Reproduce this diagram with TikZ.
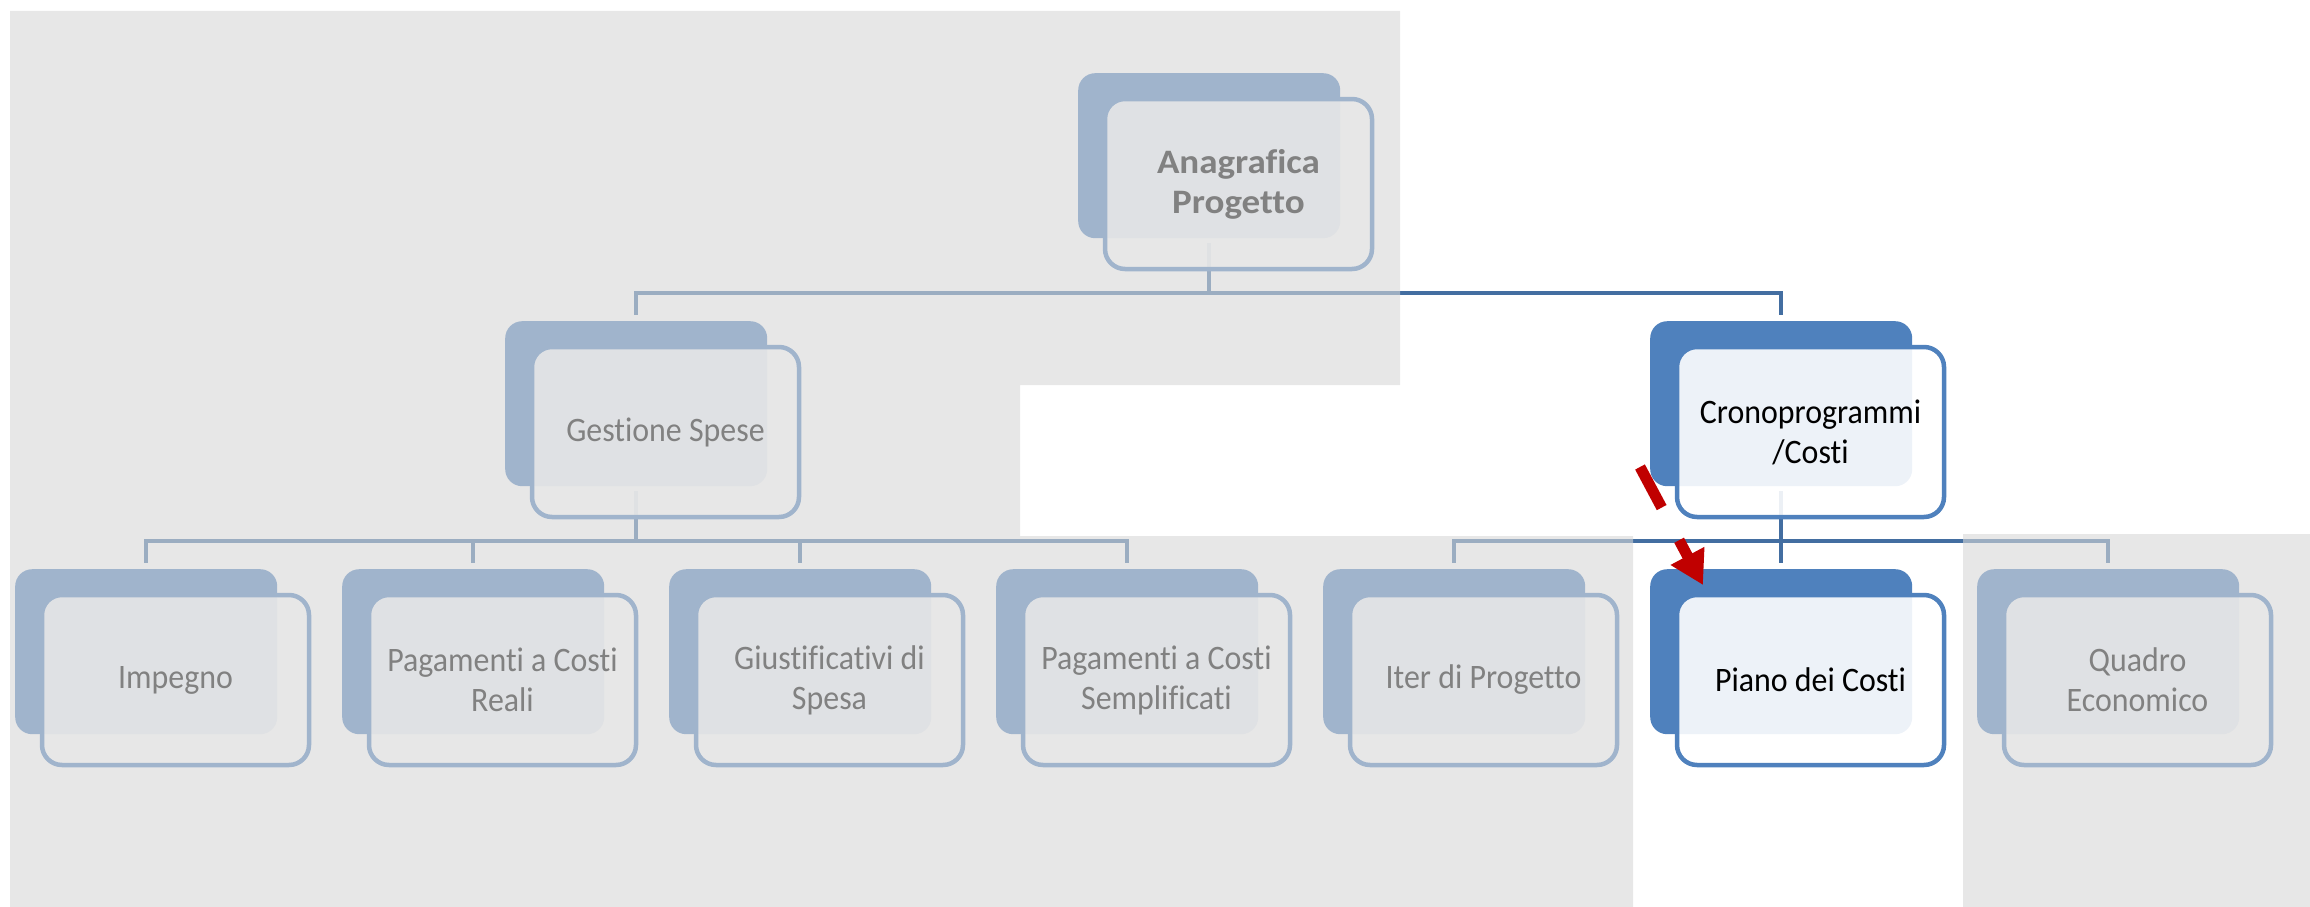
\documentclass[tikz,border=0pt]{standalone}
\usepackage{fontspec}
\setmainfont{Carlito}[FakeStretch=0.93, Ligatures=NoCommon]
\newfontfamily\topfont{Carlito}[FakeStretch=1.08, Ligatures=NoCommon]
\usetikzlibrary{calc,arrows.meta}
\definecolor{accent}{HTML}{4F81BD}
\definecolor{linkblue}{HTML}{436EA1}
\definecolor{veil}{RGB}{215,215,215}
\definecolor{arrowred}{HTML}{C00000}
\tikzset{
	back/.style={fill=accent, rounded corners=17pt, minimum width=262pt, minimum height=165pt, inner sep=0pt, anchor=north west},
	front/.style={draw=accent, line width=4.5pt, fill=white, fill opacity=0.9, text opacity=1, rounded corners=20pt, minimum width=267pt, minimum height=170pt, inner sep=0pt, align=center, font=\fontsize{34.3}{40}\selectfont},
	link/.style={draw=linkblue, line width=4.5pt, shorten <=5pt, shorten >=6pt},
}
\def\card(#1)#2#3{\node[front] (#2) at ($(#1.north west)+(160.5,111)$) {#3};}

\begin{document}
\begin{tikzpicture}[x=1pt, y=-1pt]
		%%%%% START %%%%%
		\useasboundingbox (0,0) rectangle (2310,907);
		
		% back boxes
		\node[back] (anab) at (1078,73) {};
		\node[back] (gesb) at (505,321) {};
		\node[back] (crob) at (1650,321) {};
		\node[back] (impb) at (15,569) {};
		\node[back] (prrb) at (342,569) {};
		\node[back] (giub) at (669,569) {};
		\node[back] (psmb) at (996,569) {};
		\node[back] (iterb) at (1323,569) {};
		\node[back] (pianb) at (1650,569) {};
		\node[back] (quab) at (1977,569) {};
		
		\coordinate (bar0) at (0,293);
		\coordinate (bar1) at (0,541);
		
		\draw[link] (anab.south) -- (anab.south |- bar0) -| (gesb.north);
		\draw[link] (anab.south) -- (anab.south |- bar0) -| (crob.north);
		\foreach \c in {impb,prrb,giub,psmb}
			\draw[link] (gesb.south) -- (gesb.south |- bar1) -| (\c.north);
		\foreach \c in {iterb,pianb,quab}
			\draw[link] (crob.south) -- (crob.south |- bar1) -| (\c.north);
		
		% front boxes
		\card(anab){ana}{\topfont\bfseries Anagrafica\\\topfont\bfseries Progetto}
		\card(gesb){ges}{Gestione Spese}
		\card(crob){cro}{Cronoprogrammi\\/Costi}
		\card(impb){imp}{Impegno}
		\card(prrb){prr}{Pagamenti a Costi\\Reali}
		\card(giub){giu}{Giustificativi di\\Spesa}
		\card(psmb){psm}{Pagamenti a Costi\\Semplificati}
		\card(iterb){iter}{Iter di Progetto}
		\card(pianb){pian}{Piano dei Costi}
		\card(quab){qua}{Quadro\\Economico}
		
		% grey veil
		\fill[veil, fill opacity=0.6] (10,11) rectangle (1400,385) (10,11) rectangle (1020,907)
			(1020,536) rectangle (1633,907) (1963,534) rectangle (2310,907);
		
		% red pointer
		\coordinate (arrtail) at (1640,467);
		\coordinate (arrtip) at (1703,585);
		\draw[arrowred, line width=11pt, dash pattern=on 46pt off 37pt on 300pt, -{Triangle[length=33pt,width=36pt]}] (arrtail) -- (arrtip);
		
		%%%%% END %%%%%
\end{tikzpicture}
\end{document}
